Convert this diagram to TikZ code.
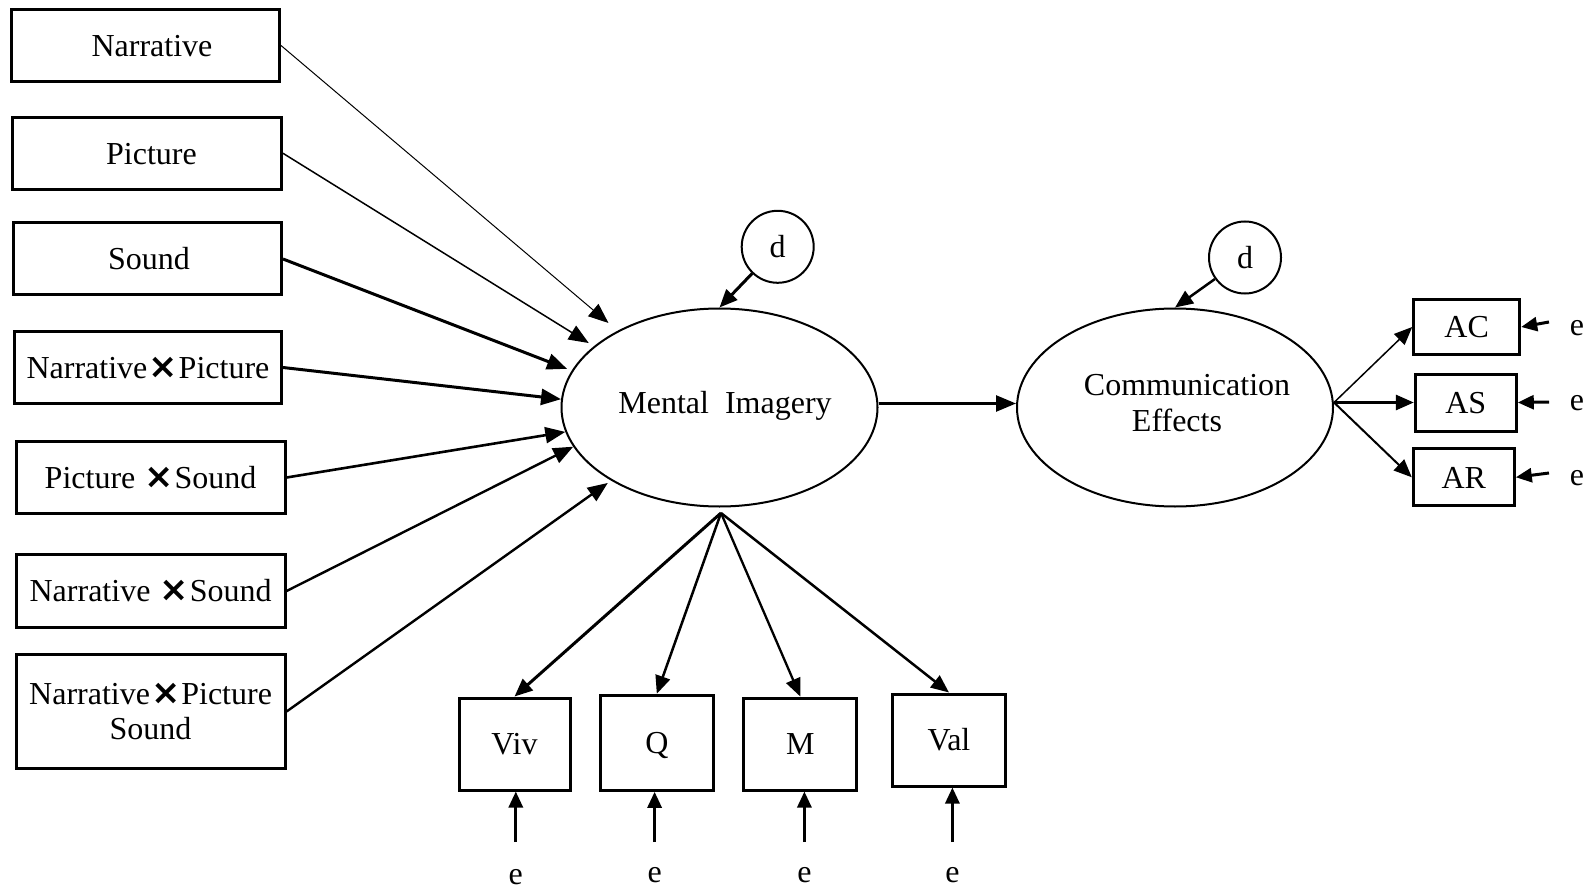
\documentclass[tikz,border=0pt]{standalone}
\usepackage{fontspec}
\setmainfont{Liberation Serif}
\newfontfamily\mulfont{DejaVu Sans}
\usetikzlibrary{arrows.meta,shapes.geometric}
% heavy multiplication sign used in the interaction terms
\newcommand{\mulsign}{\kern1pt{\mulfont\bfseries\fontsize{35}{35}\selectfont ×}\kern1pt}

\begin{document}
\begin{tikzpicture}[x=1pt,y=-1pt,
  font=\fontsize{32}{35}\selectfont,
  capline/.style={text height=21.5pt,text depth=0pt},
  obsbox/.style={draw,line width=3pt,inner sep=0pt,capline},
  latent/.style={ellipse,draw,line width=2pt,inner sep=0pt,
                 minimum width=316pt,minimum height=198pt},
  dist/.style={circle,draw,line width=2pt,inner sep=0pt,minimum size=72pt,capline},
  errlbl/.style={inner sep=0pt,text height=14.5pt,text depth=0pt},
  tipbig/.style={-{Triangle[length=20pt,width=16pt]}},
  tipmid/.style={-{Triangle[length=18pt,width=15pt]}},
  tipsmall/.style={-{Triangle[length=16pt,width=14pt]}},
]
\useasboundingbox (0,0) rectangle (1593,893);

% exogenous predictors
\node[obsbox,minimum width=268pt,minimum height=72pt] (narr)  at (145.5,45.5)  {\hspace*{13pt}Narrative};
\node[obsbox,minimum width=269pt,minimum height=72pt] (pic)   at (147,153.3)   {\hspace*{9pt}Picture};
\node[obsbox,minimum width=268pt,minimum height=72pt] (snd)   at (147.5,259)   {\hspace*{3pt}Sound};
\node[obsbox,minimum width=267pt,minimum height=72pt] (nxp)   at (148,367.5)   {Narrative\mulsign Picture};
\node[obsbox,minimum width=269pt,minimum height=72pt] (pxs)   at (150.6,477.5) {Picture \mulsign Sound};
\node[obsbox,minimum width=269pt,minimum height=73pt] (nxs)   at (150.6,591)   {Narrative \mulsign Sound};
\node[draw,line width=3pt,inner sep=0pt,align=center,
      minimum width=269pt,minimum height=114pt] (nxpxs) at (150.6,711.5)
      {Narrative\mulsign Picture\\Sound};

% latent variables
\node[latent] (mi) at (719.5,407.5) {};
\node[capline] (mitxt) at (725,402.5) {Mental\ \ Imagery};
\node[latent] (ce) at (1175,407.5) {};
\node[capline] (cetxta) at (1187,385) {Communication};
\node[capline] (cetxtb) at (1177,421) {Effects};

% disturbances
\node[dist] (d1) at (777.7,246.8) {d};
\node[dist] (d2) at (1245,257.5) {d};

% indicators of mental imagery
\node[obsbox,minimum width=111pt,minimum height=92pt] (viv) at (514.5,744) {Viv};
\node[obsbox,minimum width=113pt,minimum height=95pt] (q)   at (656.8,742.8) {Q};
\node[obsbox,minimum width=113pt,minimum height=92pt] (m)   at (800.3,744) {M};
\node[obsbox,minimum width=113pt,minimum height=92pt] (val) at (949,740) {Val};

% indicators of communication effects
\node[obsbox,minimum width=106pt,minimum height=54pt] (ac) at (1466.7,327)   {AC};
\node[obsbox,minimum width=101pt,minimum height=57pt] (as) at (1465.8,402.5) {AS};
\node[obsbox,minimum width=101pt,minimum height=57pt] (ar) at (1463.8,477.3) {AR};

% error terms
\node[errlbl] (eviv) at (515.8,877) {e};
\node[errlbl] (eq)   at (654.6,875) {e};
\node[errlbl] (em)   at (804.4,875) {e};
\node[errlbl] (eval) at (952.4,875) {e};
\node[errlbl] (eac)  at (1577,328)  {e};
\node[errlbl] (eas)  at (1577,403)  {e};
\node[errlbl] (ear)  at (1577,478)  {e};

\coordinate (tviv) at (515.8,842);
\coordinate (tq)   at (654.6,842);
\coordinate (tm)   at (804.4,842);
\coordinate (tval) at (952.4,842);
\coordinate (tac)  at (1549,322);
\coordinate (tas)  at (1549,402);
\coordinate (tar)  at (1549,473);
\coordinate (fan)  at (721,513);

% structural paths into mental imagery
\draw[tipbig,line width=1pt,shorten >=12pt]  (narr.east)  -- (mi.143);
\draw[tipbig,line width=1.5pt,shorten >=6pt] (pic.east)   -- (mi.154);
\draw[tipbig,line width=3pt,shorten >=5pt]   (snd.east)   -- (mi.166.4);
\draw[tipbig,line width=3pt]                 (nxp.east)   -- (mi.177.5);
\draw[tipbig,line width=2.6pt]               (pxs.east)   -- (mi.189.3);
\draw[tipbig,line width=2.4pt]               (nxs.east)   -- (mi.195.7);
\draw[tipbig,line width=2.4pt,shorten >=4pt] (nxpxs.east) -- (mi.214.2);

% disturbances
\draw[tipmid,line width=3pt] (d1) -- (mi.north);
\draw[tipmid,line width=2.5pt] (d2) -- (ce.north);

% mental imagery -> communication effects
\draw[tipbig,line width=2.5pt] ([yshift=4pt]mi.east) -- ([yshift=4pt]ce.west);

% measurement paths
\draw[tipmid,line width=3pt]   (fan) -- (viv.north);
\draw[tipmid,line width=2.5pt] (fan) -- (q.north);
\draw[tipmid,line width=2.3pt] (fan) -- (m.north);
\draw[tipmid,line width=2.5pt] (fan) -- (val.north);

\draw[tipmid,line width=1.5pt] ([yshift=5pt]ce.east) -- (ac.west);
\draw[tipmid,line width=3pt]   ([yshift=5pt]ce.east) -- (as.west);
\draw[tipmid,line width=2pt]   ([yshift=5pt]ce.east) -- (ar.west);

% error arrows
\draw[tipsmall,line width=3pt] (tviv) -- (tviv |- viv.south);
\draw[tipsmall,line width=3pt] (tq)   -- (tq |- q.south);
\draw[tipsmall,line width=3pt] (tm)   -- (tm |- m.south);
\draw[tipsmall,line width=3pt] (tval) -- (tval |- val.south);
\draw[tipsmall,line width=3pt] (tac)  -- (ac.east);
\draw[tipsmall,line width=3pt] (tas)  -- (as.east);
\draw[tipsmall,line width=3pt] (tar)  -- (ar.east);
\end{tikzpicture}
\end{document}
